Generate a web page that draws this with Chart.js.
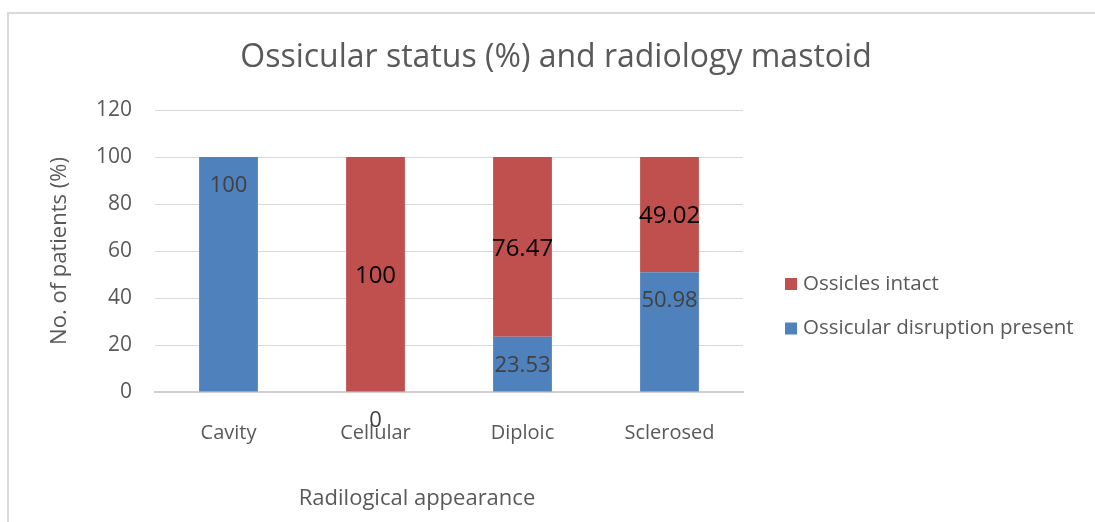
<!DOCTYPE html>
<html>
<head>
<meta charset="utf-8">
<script src="https://cdn.jsdelivr.net/npm/chart.js@4/dist/chart.umd.min.js"></script>
<style>
  html, body { margin: 0; background: #fff; overflow: hidden; }
  #wrap { position: relative; width: 1095px; height: 522px; overflow: hidden; }
  #frame { position: absolute; left: 7px; top: 12px; width: 1200px; height: 600px; border: 2px solid #d9d9d9; box-sizing: border-box; }
  #chart { position: absolute; left: 0; top: 0; }
</style>
</head>
<body>
<div id="wrap">
  <div id="frame"></div>
  <canvas id="chart" width="1095" height="522"></canvas>
</div>
<script>
// Chart data
const categories = ['Cavity', 'Cellular', 'Diploic', 'Sclerosed'];
const disruptionPresent = [100, 0, 23.53, 50.98];
const ossiclesIntact = [0, 100, 76.47, 49.02];
const yTicks = [0, 20, 40, 60, 80, 100, 120];

const chartTitle = 'Ossicular status (%) and radiology mastoid';
const xTitle = 'Radilogical appearance';
const yTitle = 'No. of patients (%)';

const FONT = "'Open Sans', 'DejaVu Sans', sans-serif";
const textGray = '#595959';

// Titles, legend and value labels drawn on the canvas
const decorPlugin = {
    id: 'decor',
    afterDatasetsDraw(chart) {
        const ctx = chart.ctx;
        const area = chart.chartArea;
        ctx.save();

        // value labels
        chart.data.datasets.forEach((ds, i) => {
            const meta = chart.getDatasetMeta(i);
            meta.data.forEach((bar, j) => {
                const v = ds.data[j];
                ctx.textAlign = 'center';
                ctx.textBaseline = 'middle';
                if (i === 0) {
                    ctx.font = '22px ' + FONT;
                    ctx.fillStyle = '#404040';
                    ctx.fillText(String(v), bar.x, bar.y + 29);
                } else {
                    if (v === 0) return;
                    ctx.font = '24px ' + FONT;
                    ctx.fillStyle = '#000000';
                    ctx.fillText(String(v), bar.x, (bar.y + bar.base) / 2 + 2);
                }
            });
        });

        // chart title
        ctx.fillStyle = textGray;
        ctx.font = '32px ' + FONT;
        ctx.textAlign = 'center';
        ctx.textBaseline = 'middle';
        ctx.fillText(chartTitle, 556, 58);

        // axis titles
        ctx.font = '22px ' + FONT;
        ctx.fillText(xTitle, 417, 499);
        ctx.save();
        ctx.translate(60, (area.top + area.bottom) / 2);
        ctx.rotate(-Math.PI / 2);
        ctx.fillText(yTitle, 0, 0);
        ctx.restore();

        // legend (reverse order like the original)
        const rows = [chart.data.datasets[1], chart.data.datasets[0]];
        ctx.font = '20.5px ' + FONT;
        ctx.textAlign = 'left';
        rows.forEach((ds, k) => {
            const y = 284 + k * 44.5;
            ctx.fillStyle = ds.backgroundColor;
            ctx.fillRect(785, y - 6, 12, 12);
            ctx.fillStyle = textGray;
            ctx.fillText(ds.label, 803, y);
        });
        ctx.restore();
    }
};

new Chart(document.getElementById('chart').getContext('2d'), {
    type: 'bar',
    data: {
        labels: categories,
        datasets: [{
            label: 'Ossicular disruption present',
            data: disruptionPresent,
            backgroundColor: '#4f81bd',
            categoryPercentage: 1,
            barPercentage: 0.4
        }, {
            label: 'Ossicles intact',
            data: ossiclesIntact,
            backgroundColor: '#c0504d',
            categoryPercentage: 1,
            barPercentage: 0.4
        }]
    },
    options: {
        responsive: false,
        animation: false,
        layout: { padding: { top: 110, right: 352, left: 0, bottom: 0 } },
        plugins: {
            legend: { display: false },
            title: { display: false },
            tooltip: { enabled: false }
        },
        scales: {
            x: {
                stacked: true,
                grid: { display: false, drawTicks: false },
                border: { display: true, color: '#d0d0d0', width: 2 },
                ticks: { color: textGray, font: { family: FONT, size: 20 }, padding: 29 },
                afterFit(scale) { scale.height = 130; }
            },
            y: {
                stacked: true,
                min: 0,
                max: 120,
                afterBuildTicks(scale) { scale.ticks = yTicks.map(v => ({ value: v })); },
                grid: { color: '#d9d9d9', lineWidth: 1, drawTicks: false },
                border: { display: false },
                ticks: { color: textGray, font: { family: FONT, size: 21 }, padding: 23 },
                afterFit(scale) { scale.width = 155; }
            }
        }
    },
    plugins: [decorPlugin]
});
</script>
</body>
</html>
